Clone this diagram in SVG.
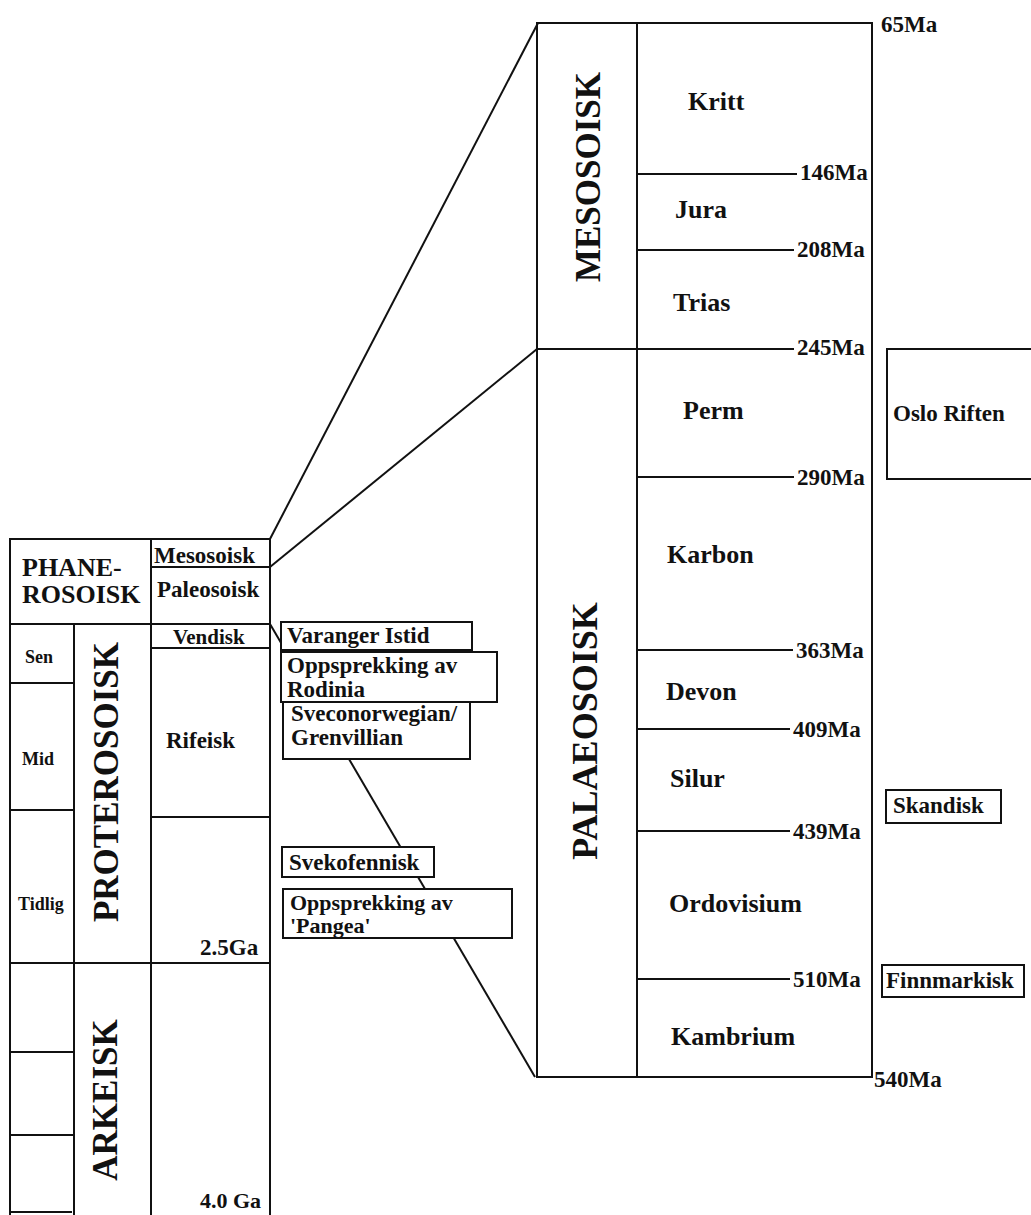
<svg xmlns="http://www.w3.org/2000/svg" width="1031" height="1215" viewBox="0 0 1031 1215">
<style>
  text { font-family: "Liberation Serif", "Times New Roman", serif; font-weight: bold; fill: #111; }
  .ln { stroke: #111; stroke-width: 2; fill: none; }
  .bx { stroke: #111; stroke-width: 2; fill: #fff; }
  .big { font-size: 35px; }
  .per { font-size: 26px; }
  .tk { font-size: 23px; }
  .lb { font-size: 23px; }
  .sm { font-size: 18px; }
</style>
<rect width="1031" height="1215" fill="#fff"/>

<g id="connectors">
  <line class="ln" x1="270" y1="539" x2="538" y2="23"/>
  <line class="ln" x1="270" y1="567" x2="537" y2="349"/>
  <line class="ln" x1="270" y1="624" x2="535" y2="1077"/>
</g>

<!-- Left chart -->
<g id="phanerosoisk">
  <rect class="ln" x="10" y="539" width="141" height="85"/>
  <text class="lb" x="22" y="576" style="font-size:26px">PHANE-</text>
  <text class="lb" x="22" y="603" style="font-size:26px">ROSOISK</text>
</g>
<g id="mesosoisk-small">
  <rect class="ln" x="151" y="539" width="119" height="28"/>
  <text class="lb" x="154" y="563">Mesosoisk</text>
</g>
<g id="paleosoisk-small">
  <rect class="ln" x="151" y="567" width="119" height="57"/>
  <text class="lb" x="157" y="597">Paleosoisk</text>
</g>
<g id="vendisk">
  <rect class="ln" x="151" y="624" width="119" height="24"/>
  <text class="lb" x="173" y="644" style="font-size:21px">Vendisk</text>
</g>
<g id="rifeisk">
  <rect class="ln" x="151" y="648" width="119" height="169"/>
  <text class="lb" x="166" y="748">Rifeisk</text>
</g>
<g id="rifeisk-lower">
  <rect class="ln" x="151" y="817" width="119" height="146"/>
  <text class="lb" x="200" y="955">2.5Ga</text>
</g>
<g id="sen">
  <rect class="ln" x="10" y="624" width="64" height="59"/>
  <text class="sm" x="25" y="663">Sen</text>
</g>
<g id="mid">
  <rect class="ln" x="10" y="683" width="64" height="127"/>
  <text class="sm" x="22" y="765">Mid</text>
</g>
<g id="tidlig">
  <rect class="ln" x="10" y="810" width="64" height="153"/>
  <text class="sm" x="18" y="910">Tidlig</text>
</g>
<g id="proterosoisk">
  <rect class="ln" x="74" y="624" width="77" height="339"/>
  <text class="big" text-anchor="middle" transform="translate(118,782) rotate(-90)">PROTEROSOISK</text>
</g>
<g id="arkeisk">
  <path class="ln" d="M10,963 V1215 M74,963 V1215 M151,963 V1215 M270,963 V1215 M10,963 H270"/>
  <path class="ln" d="M10,1052 H74 M10,1135 H74 M10,1212 H72"/>
  <text class="big" text-anchor="middle" transform="translate(117,1100) rotate(-90)">ARKEISK</text>
  <text class="lb" x="200" y="1208" style="font-size:22px">4.0 Ga</text>
</g>

<!-- Middle event boxes -->
<g id="varanger">
  <rect class="bx" x="281" y="622" width="191" height="28"/>
  <text class="lb" x="287" y="643">Varanger Istid</text>
</g>
<g id="grenvillian">
  <rect class="bx" x="283" y="702" width="187" height="57"/>
  <text class="lb" x="291" y="721">Sveconorwegian/</text>
  <text class="lb" x="291" y="745">Grenvillian</text>
</g>
<g id="rodinia">
  <rect class="bx" x="281" y="652" width="216" height="50"/>
  <text class="lb" x="287" y="673">Oppsprekking av</text>
  <text class="lb" x="287" y="697">Rodinia</text>
</g>
<g id="svekofennisk">
  <rect class="bx" x="282" y="847" width="152" height="30"/>
  <text class="lb" x="289" y="870">Svekofennisk</text>
</g>
<g id="pangea">
  <rect class="bx" x="283" y="889" width="229" height="49"/>
  <text class="lb" x="290" y="910" style="font-size:22px">Oppsprekking av</text>
  <text class="lb" x="290" y="933" style="font-size:22px">'Pangea'</text>
</g>

<!-- Right chart -->
<g id="mesosoisk">
  <rect class="ln" x="537" y="23" width="100" height="326"/>
  <text class="big" text-anchor="middle" transform="translate(600,177) rotate(-90)">MESOSOISK</text>
</g>
<g id="palaeosoisk">
  <rect class="ln" x="537" y="349" width="100" height="728"/>
  <text class="big" text-anchor="middle" transform="translate(597,731) rotate(-90)" style="font-size:36px">PALAEOSOISK</text>
</g>
<g id="periods">
  <path class="ln" d="M637,23 H872 V1077 H637"/>
  <path class="ln" d="M637,174 H797 M637,250 H794 M637,349 H794 M637,477 H794 M637,650 H793 M637,729 H790 M637,831 H790 M637,979 H790"/>
</g>
<g id="kritt"><text class="per" x="688" y="110">Kritt</text></g>
<g id="jura"><text class="per" x="675" y="218">Jura</text></g>
<g id="trias"><text class="per" x="673" y="311">Trias</text></g>
<g id="perm"><text class="per" x="683" y="419">Perm</text></g>
<g id="karbon"><text class="per" x="667" y="563">Karbon</text></g>
<g id="devon"><text class="per" x="666" y="700">Devon</text></g>
<g id="silur"><text class="per" x="670" y="787">Silur</text></g>
<g id="ordovisium"><text class="per" x="669" y="912">Ordovisium</text></g>
<g id="kambrium"><text class="per" x="671" y="1045">Kambrium</text></g>

<g id="ages">
  <text class="tk" x="881" y="32">65Ma</text>
  <text class="tk" x="800" y="180">146Ma</text>
  <text class="tk" x="797" y="257">208Ma</text>
  <text class="tk" x="797" y="355">245Ma</text>
  <text class="tk" x="797" y="485">290Ma</text>
  <text class="tk" x="796" y="658">363Ma</text>
  <text class="tk" x="793" y="737">409Ma</text>
  <text class="tk" x="793" y="839">439Ma</text>
  <text class="tk" x="793" y="987">510Ma</text>
  <text class="tk" x="874" y="1087">540Ma</text>
</g>

<!-- Right event boxes -->
<g id="oslo-riften">
  <path class="ln" d="M1031,349 H887 V479 H1031"/>
  <text class="lb" x="893" y="421">Oslo Riften</text>
</g>
<g id="skandisk">
  <rect class="bx" x="886" y="790" width="115" height="33"/>
  <text class="lb" x="893" y="813">Skandisk</text>
</g>
<g id="finnmarkisk">
  <rect class="bx" x="882" y="965" width="142" height="32"/>
  <text class="lb" x="886" y="988">Finnmarkisk</text>
</g>
</svg>
